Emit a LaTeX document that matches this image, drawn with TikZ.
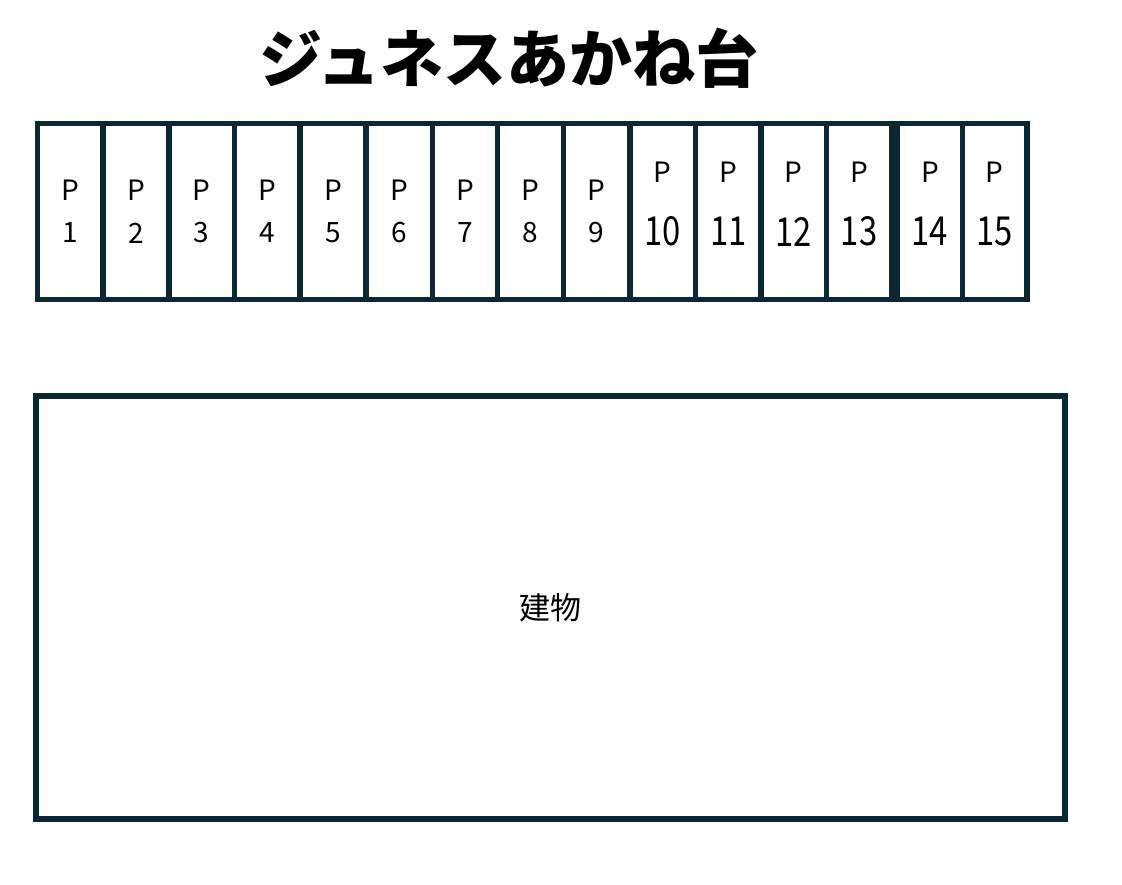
\documentclass[tikz,border=0pt]{standalone}
\usepackage{fontspec}
\setmainfont{Noto Sans CJK JP}
\newfontfamily\narrowfont[FakeStretch=0.82]{Noto Sans CJK JP}
\definecolor{frame}{HTML}{0C2633}
\begin{document}
\begin{tikzpicture}[x=1pt,y=-1pt,
  stall/.style={draw=frame,line width=5.5pt,inner sep=0pt,minimum height=176pt},
  plabel/.style={inner sep=0pt,font=\fontsize{28}{28}\selectfont},
  nlabel/.style={inner sep=0pt,font=\fontsize{28}{28}\selectfont},
  wlabel/.style={inner sep=0pt,font=\narrowfont\fontsize{40}{40}\selectfont},
  bldg/.style={draw=frame,line width=6pt,inner sep=0pt}]
\useasboundingbox (0,0) rectangle (1122,884);
\node[inner sep=0pt,font=\fontsize{63}{63}\selectfont\bfseries] (title) at (509,58) {ジュネスあかね台};
% stalls
\foreach \i/\l/\r in {1/37.5/103,2/103/169,3/169/234.5,4/234.5/300,5/300/366,6/366/432.5,7/432.5/497.5,8/497.5/563.5,9/563.5/630,10/630/695.5,11/695.5/761,12/761/826.5,13/826.5/891.75,14/897.25/962.5,15/962.5/1027}{
  \node[stall,minimum width={\r-\l}] (s\i) at ({(\l+\r)/2},211.5) {};
}
\foreach \i in {1,...,9}{
  \node[plabel] (p\i) at ([yshift=21pt]s\i.center) {P};
  \node[nlabel] (n\i) at ([yshift=-21.5pt]s\i.center) {\i};
}
\foreach \i in {10,...,15}{
  \node[plabel] (p\i) at ([yshift=39.5pt]s\i.center) {P};
  \node[wlabel] (n\i) at ([yshift=-20pt]s\i.center) {\i};
}
% building
\node[bldg,minimum width=1029pt,minimum height=423pt] (b) at (550.5,607.5) {};
\node[inner sep=0pt,font=\fontsize{31}{31}\selectfont] (bl) at (b.center) {建物};
\end{tikzpicture}
\end{document}
